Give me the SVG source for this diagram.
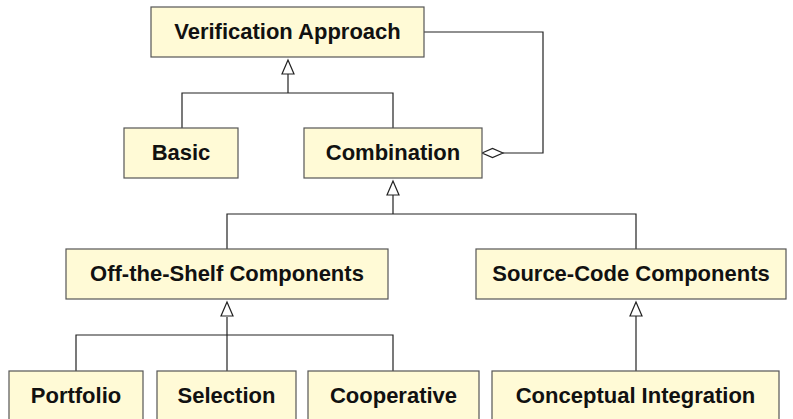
<svg xmlns="http://www.w3.org/2000/svg" width="793" height="419" viewBox="0 0 793 419">
  <style>
    .box { fill: #fffad6; stroke: #555555; stroke-width: 1.2; }
    .lbl { font-family: "Liberation Sans", Arial, sans-serif; font-weight: bold; font-size: 22px; fill: #111111; text-anchor: middle; }
    .wire { fill: none; stroke: #222222; stroke-width: 1.2; }
    .gen { fill: #ffffff; stroke: #222222; stroke-width: 1.2; }
    .agg { fill: #ffffff; stroke: #222222; stroke-width: 1.2; }
  </style>
  <rect width="793" height="419" fill="#ffffff"/>

  <g id="connectors">
    <!-- generalisation: Basic, Combination -> Verification Approach -->
    <path class="wire" d="M182 128 V93 H393 V128 M288 93 V74"/>
    <polygon class="gen" points="288,60 282,74 294,74"/>
    <!-- aggregation: Verification Approach <>- Combination -->
    <path class="wire" d="M424 32 H543 V153 H503"/>
    <polygon class="agg" points="482,153 492.5,148.5 503,153 492.5,157.5"/>
    <!-- generalisation: component kinds -> Combination -->
    <path class="wire" d="M227 249 V214 H636 V249 M393 214 V195"/>
    <polygon class="gen" points="393,181 387,195 399,195"/>
    <!-- generalisation: Portfolio, Selection, Cooperative -> Off-the-Shelf -->
    <path class="wire" d="M76 371 V335 H393 V371 M227 335 V317"/>
    <path class="wire" d="M227 335 V371"/>
    <polygon class="gen" points="227,302 221,316 233,316"/>
    <!-- generalisation: Conceptual Integration -> Source-Code -->
    <path class="wire" d="M636 371 V316"/>
    <polygon class="gen" points="636,302 630,316 642,316"/>
  </g>

  <g id="verification-approach">
    <rect class="box" x="151" y="7" width="273" height="50"/>
    <text class="lbl" x="287.5" y="38.5">Verification Approach</text>
  </g>
  <g id="basic">
    <rect class="box" x="124" y="128" width="114" height="50"/>
    <text class="lbl" x="181" y="159.5">Basic</text>
  </g>
  <g id="combination">
    <rect class="box" x="304" y="128" width="178" height="50"/>
    <text class="lbl" x="393" y="159.5">Combination</text>
  </g>
  <g id="off-the-shelf">
    <rect class="box" x="66" y="249" width="322" height="50"/>
    <text class="lbl" x="227" y="280.5">Off-the-Shelf Components</text>
  </g>
  <g id="source-code">
    <rect class="box" x="476" y="249" width="310" height="50"/>
    <text class="lbl" x="631" y="280.5">Source-Code Components</text>
  </g>
  <g id="portfolio">
    <rect class="box" x="9" y="371" width="134" height="52"/>
    <text class="lbl" x="76" y="402.5">Portfolio</text>
  </g>
  <g id="selection">
    <rect class="box" x="157" y="371" width="139" height="52"/>
    <text class="lbl" x="226.5" y="402.5">Selection</text>
  </g>
  <g id="cooperative">
    <rect class="box" x="308" y="371" width="171" height="52"/>
    <text class="lbl" x="393.5" y="402.5">Cooperative</text>
  </g>
  <g id="conceptual-integration">
    <rect class="box" x="492" y="371" width="287" height="52"/>
    <text class="lbl" x="635.5" y="402.5">Conceptual Integration</text>
  </g>
</svg>
